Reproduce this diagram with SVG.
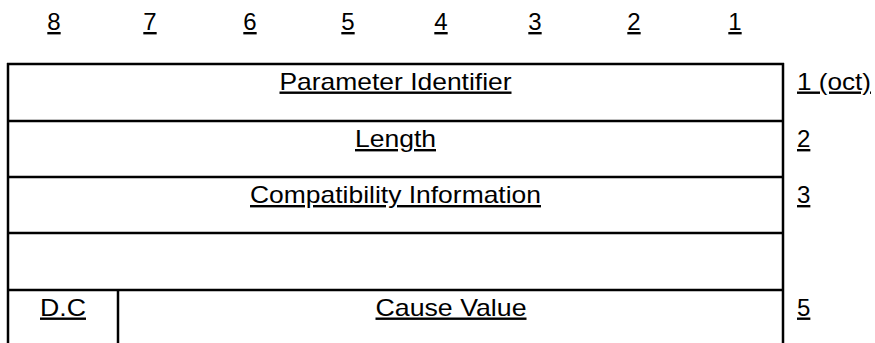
<svg xmlns="http://www.w3.org/2000/svg" width="875" height="343" viewBox="0 0 875 343">
<style>
text{font-family:"Liberation Sans",Arial,sans-serif;font-size:24px;fill:#000;text-decoration:underline}
.c{text-anchor:middle}
.ln{stroke:#000;stroke-width:2.5;fill:none}
</style>
<rect width="875" height="343" fill="#fff"/>
<g id="bits">
<text class="c" x="54" y="30">8</text>
<text class="c" x="150" y="30">7</text>
<text class="c" x="250" y="30">6</text>
<text class="c" x="348" y="30">5</text>
<text class="c" x="441" y="30">4</text>
<text class="c" x="535" y="30">3</text>
<text class="c" x="634" y="30">2</text>
<text class="c" x="735" y="30">1</text>
</g>
<g id="grid">
<line class="ln" x1="7" y1="64" x2="784" y2="64"/>
<line class="ln" x1="7" y1="121" x2="784" y2="121"/>
<line class="ln" x1="7" y1="177" x2="784" y2="177"/>
<line class="ln" x1="7" y1="233" x2="784" y2="233"/>
<line class="ln" x1="7" y1="290" x2="784" y2="290"/>
<line class="ln" x1="8" y1="63" x2="8" y2="343"/>
<line class="ln" x1="783" y1="63" x2="783" y2="343"/>
<line class="ln" x1="118" y1="290" x2="118" y2="343"/>
</g>
<g id="row1">
<text class="c" x="395.5" y="89.5" textLength="232" lengthAdjust="spacingAndGlyphs">Parameter Identifier</text>
<text x="797" y="89.5" textLength="74" lengthAdjust="spacingAndGlyphs">1 (oct)</text>
</g>
<g id="row2">
<text class="c" x="395.5" y="147" textLength="81" lengthAdjust="spacingAndGlyphs">Length</text>
<text x="797" y="147">2</text>
</g>
<g id="row3">
<text class="c" x="395.5" y="203" textLength="291" lengthAdjust="spacingAndGlyphs">Compatibility Information</text>
<text x="797" y="203">3</text>
</g>
<g id="row4"></g>
<g id="row5">
<text class="c" x="63" y="315.5" textLength="46" lengthAdjust="spacingAndGlyphs">D.C</text>
<text class="c" x="451" y="315.5" textLength="151" lengthAdjust="spacingAndGlyphs">Cause Value</text>
<text x="797" y="315.5">5</text>
</g>
</svg>
